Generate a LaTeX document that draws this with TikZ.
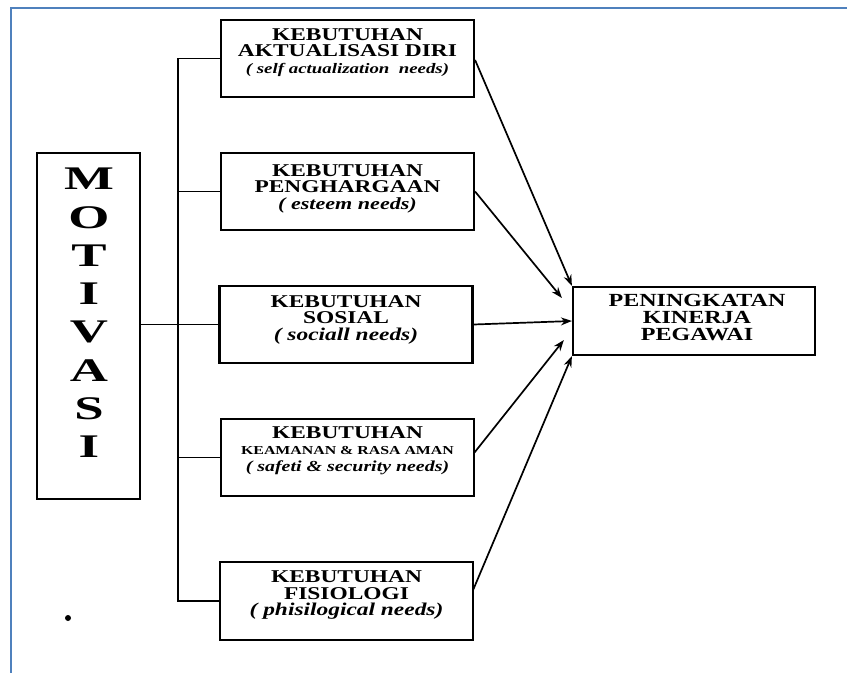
\documentclass[tikz,border=0pt]{standalone}
\usepackage{fontspec}
\setmainfont{Liberation Serif}
\newfontfamily\wide{Liberation Serif}[FakeStretch=1.3]
\newfontfamily\wider{Liberation Serif}[FakeStretch=1.6]
\usetikzlibrary{arrows.meta,calc}
\definecolor{frameblue}{RGB}{79,129,189}
\begin{document}
\begin{tikzpicture}[x=1pt,y=-1pt,
  needbox/.style={draw, line width=2.2pt, minimum width=253pt, minimum height=77pt, inner sep=0pt},
  txt/.style={align=center, inner sep=0pt, font=\wide\bfseries\fontsize{18}{16.5}\selectfont},
  link/.style={line width=1.8pt},
  arr/.style={line width=1.7pt, -{Stealth[length=11pt,width=8pt]}}]
\useasboundingbox (0,0) rectangle (847,673);
\fill[white] (0,0) rectangle (847,673);
% blue frame (top and left edges visible)
\draw[frameblue, line width=2.6pt] (847,8) -- (11,8) -- (11,673);

% MOTIVASI box
\node[draw, line width=2.2pt, minimum width=103pt, minimum height=346pt, inner sep=0pt] (mot) at (88.5,326) {};
\node[align=center, inner sep=0pt, font=\wider\bfseries\fontsize{33}{38.3}\selectfont] (mottxt) at (89,313) {M\\O\\T\\I\\V\\A\\S\\I};

% need boxes
\node[needbox] (b1) at (347.5,58.5) {};
\node[needbox] (b2) at (347.5,191.5) {};
\node[needbox] (b3) at (346,324.5) {};
\node[needbox] (b4) at (347.5,457.5) {};
\node[needbox, minimum height=78pt] (b5) at (346.5,601) {};

\node[txt] (t1) at ($(b1.center)+(0,-6)$) {KEBUTUHAN\\AKTUALISASI DIRI\\{\itshape\fontsize{14.5}{16}\selectfont ( self actualization\ \ needs)}};
\node[txt] (t2) at ($(b2.center)+(0,-3)$) {KEBUTUHAN\\PENGHARGAAN\\{\itshape\fontsize{17}{16}\selectfont ( esteem needs)}};
\node[txt] (t3) at ($(b3.center)+(0,-5)$) {KEBUTUHAN\\SOSIAL\\{\itshape\fontsize{18}{16}\selectfont ( sociall needs)}};
\node[txt] (t4) at ($(b4.center)+(0,-7)$) {KEBUTUHAN\\{\fontsize{12.2}{13}\selectfont KEAMANAN \& RASA AMAN}\\{\itshape\fontsize{15.3}{15}\selectfont ( safeti \& security needs)}};
\node[txt] (t5) at ($(b5.center)+(0,-6)$) {KEBUTUHAN\\FISIOLOGI\\{\itshape\fontsize{18}{16}\selectfont ( phisilogical needs)}};

% target box
\node[draw, line width=2.2pt, minimum width=242pt, minimum height=68pt, inner sep=0pt] (tgt) at (694,321) {};
\node[align=center, inner sep=0pt, font=\wide\bfseries\fontsize{18.5}{17}\selectfont] (tgttxt) at (697,318) {PENINGKATAN\\KINERJA\\PEGAWAI};

% bus from MOTIVASI
\coordinate (bus) at (178,0);
\draw[link] (b1.west) -- (b1.west -| bus) -- (b5.west -| bus) -- (b5.west);
\draw[link] (b2.west -| bus) -- (b2.west);
\draw[link] (b4.west -| bus) -- (b4.west);
\draw[link] (mot.east |- b3.west) -- (b3.west);

% arrows to target
\draw[arr] ($(b1.east)+(0,1.5)$) -- (tgt.north west);
\draw[arr] (b2.east) -- ($(tgt.west)+(-10,-23)$);
\draw[arr] (b3.east) -- (tgt.west);
\draw[arr] ($(b4.east)+(-1,-4.5)$) -- ($(tgt.west)+(-8,19)$);
\draw[arr] ($(b5.east)+(-1,-11)$) -- (tgt.south west);

% stray dot
\fill (68,618) circle (3pt);
\end{tikzpicture}
\end{document}
